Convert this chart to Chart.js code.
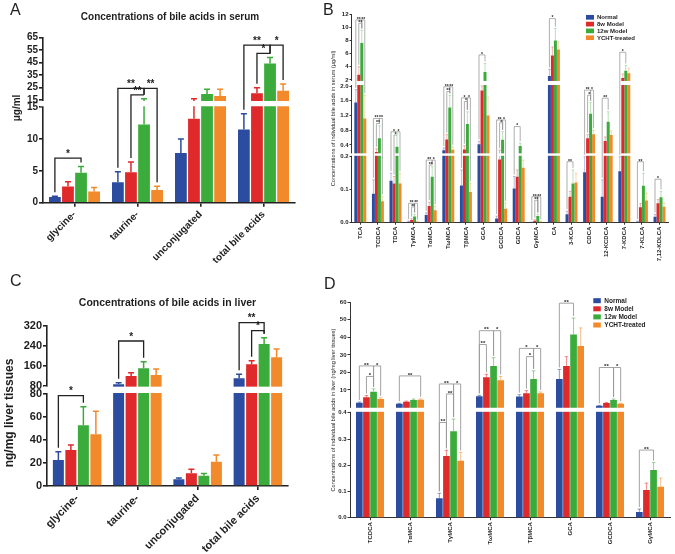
<!DOCTYPE html>
<html>
<head>
<meta charset="utf-8">
<script src="https://cdn.jsdelivr.net/npm/chart.js@4.4.0/dist/chart.umd.min.js"></script>
<style>
body { margin: 0; background: #fff; }
#wrap { position: relative; width: 675px; height: 554px; overflow: hidden; font-family: "Liberation Sans", Arial, sans-serif; color: #1e1e1e; }
canvas { position: absolute; }
.letter { position: absolute; font-size: 16px; line-height: 16px; }
.title { position: absolute; font-weight: bold; text-align: center; white-space: nowrap; }
.ytitle { position: absolute; font-weight: bold; text-align: center; white-space: nowrap; transform: rotate(-90deg); }
</style>
</head>
<body>
<div id="wrap">
  <canvas id="chartA" width="335" height="272" style="left:0;top:0"></canvas>
  <canvas id="chartB" width="345" height="272" style="left:330px;top:0"></canvas>
  <canvas id="chartC" width="335" height="279" style="left:0;top:275px"></canvas>
  <canvas id="chartD" width="345" height="279" style="left:330px;top:275px"></canvas>

  <div class="letter" style="left:10px;top:2px">A</div>
  <div class="letter" style="left:323px;top:2px">B</div>
  <div class="letter" style="left:10px;top:273px">C</div>
  <div class="letter" style="left:324px;top:276px">D</div>

  <div class="title" style="left:0;width:340px;top:12px;font-size:10px;line-height:10px">Concentrations of bile acids in serum</div>
  <div class="title" style="left:0;width:335px;top:297px;font-size:10.5px;line-height:11px">Concentrations of bile acids in liver</div>
  <div class="ytitle" style="left:-13px;width:60px;top:102px;font-size:10px;line-height:12px">μg/ml</div>
  <div class="ytitle" style="left:-56px;width:130px;top:406px;font-size:12px;line-height:14px">ng/mg liver tissues</div>
</div>
<script>
const FONT = '"Liberation Sans", Arial, sans-serif';
Chart.defaults.font.family = FONT;

const groups = ['Normal', '8w Model', '12w Model', 'YCHT-treated'];
const colors = ['#2b4c9f', '#e0292a', '#3bab3c', '#f2892a'];

// A - serum, pooled classes (ug/ml)
const serumCats = ['glycine-', 'taurine-', 'unconjugated', 'total bile acids'];
const serumNormal = [0.9, 3.2, 7.8, 11.5];
const serum8w = [2.55, 4.8, 13.2, 20.3];
const serum12w = [4.7, 12.3, 19.8, 44.2];
const serumYcht = [1.75, 2.0, 18.2, 22.4];
const serumErrNormal = [1.0, 4.85, 10.0, 14.0];
const serumErr8w = [3.3, 6.4, 16.0, 24.8];
const serumErr12w = [5.7, 16.0, 23.5, 48.8];
const serumErrYcht = [2.4, 2.6, 23.5, 27.8];
const serumTicksLow = [0, 5, 10, 15];
const serumTicksHigh = [15, 25, 35, 45, 55, 65];
// [category, group a, group b, bracket height, stars]
const serumSig = [
  [0, 0, 2, 7.0, '*'],
  [1, 0, 2, 24.3, '**'], [1, 1, 2, 19.0, '**'], [1, 2, 3, 24.3, '**'],
  [3, 0, 2, 58.8, '**'], [3, 1, 2, 52.2, '*'], [3, 2, 3, 58.8, '*']
];

// B - serum, individual bile acids (ug/ml)
const acidCats = ['TCA', 'TCDCA', 'TDCA', 'TγMCA', 'TαMCA', 'TωMCA', 'TβMCA', 'GCA', 'GCDCA', 'GDCA',
  'GγMCA', 'CA', '3-KCA', 'CDCA', '12-KCDCA', '7-KDCA', '7-KLCA', '7,12-KDLCA'];
const acidNormal = [1.55, 0.088, 0.127, 0.003, 0.023, 0.26, 0.113, 0.42, 0.013, 0.104, 0.001, 2.6, 0.026, 0.153, 0.079, 0.156, 0.003, 0.018];
const acid8w = [2.8, 0.21, 0.119, 0.008, 0.051, 0.55, 0.28, 1.88, 0.192, 0.139, 0.006, 5.7, 0.079, 0.58, 0.51, 2.3, 0.047, 0.059];
const acid12w = [7.6, 0.58, 0.355, 0.019, 0.139, 1.42, 0.97, 3.2, 0.54, 0.37, 0.02, 8.0, 0.119, 1.25, 1.03, 3.4, 0.112, 0.077];
const acidYcht = [1.12, 0.065, 0.119, 0.003, 0.038, 0.27, 0.093, 1.2, 0.042, 0.167, 0.003, 6.6, 0.122, 0.69, 0.67, 3.0, 0.067, 0.048];
const acidErrNormal = [1.9, 0.13, 0.15, 0.005, 0.03, 0.32, 0.16, 0.5, 0.02, 0.14, 0.002, 3.6, 0.035, 0.2, 0.13, 0.2, 0.005, 0.025];
const acidErr8w = [4.0, 0.3, 0.14, 0.012, 0.062, 0.68, 0.38, 2.0, 0.26, 0.16, 0.009, 7.0, 0.095, 0.68, 0.62, 2.9, 0.058, 0.07];
const acidErr12w = [9.5, 0.92, 0.72, 0.025, 0.17, 1.75, 1.3, 4.5, 0.76, 0.45, 0.025, 9.8, 0.16, 1.55, 1.3, 4.2, 0.15, 0.095];
const acidErrYcht = [1.75, 0.08, 0.15, 0.004, 0.05, 0.35, 0.12, 1.7, 0.06, 0.19, 0.004, 7.8, 0.15, 0.8, 0.78, 3.8, 0.09, 0.06];
const acidTicksLow = [0, 0.1, 0.2];
const acidTicksMid = [0.4, 0.8, 1.2, 1.6, 2.0];
const acidTicksHigh = [2, 4, 6, 8, 10, 12];
const acidSig = [
  [0, 0, 2, 11.1, '**'], [0, 2, 3, 11.1, '**'], [0, 1, 2, 10.6, '**'],
  [1, 0, 2, 1.12, '**'], [1, 2, 3, 1.12, '**'], [1, 1, 2, 0.98, '**'],
  [2, 0, 2, 0.76, '*'], [2, 2, 3, 0.76, '*'], [2, 1, 2, 0.67, '*'],
  [3, 0, 2, 0.059, '**'], [3, 2, 3, 0.059, '**'], [3, 1, 2, 0.048, '**'],
  [4, 0, 2, 0.19, '**'], [4, 2, 3, 0.19, '*'], [4, 1, 2, 0.175, '**'],
  [5, 0, 2, 1.98, '**'], [5, 2, 3, 1.98, '**'], [5, 1, 2, 1.85, '**'],
  [6, 0, 2, 1.68, '*'], [6, 2, 3, 1.68, '*'], [6, 1, 2, 1.58, '*'],
  [7, 0, 2, 5.8, '*'],
  [8, 0, 2, 1.08, '**'], [8, 2, 3, 1.08, '*'], [8, 1, 2, 1.0, '*'],
  [9, 0, 2, 0.9, '*'],
  [10, 0, 2, 0.079, '**'], [10, 2, 3, 0.079, '**'], [10, 1, 2, 0.068, '**'],
  [11, 0, 2, 11.3, '*'],
  [12, 0, 2, 0.185, '**'],
  [13, 0, 2, 1.89, '**'], [13, 2, 3, 1.89, '*'], [13, 1, 2, 1.75, '*'],
  [14, 0, 2, 1.67, '**'],
  [15, 0, 2, 6.2, '*'],
  [16, 0, 2, 0.185, '**'],
  [17, 0, 2, 0.132, '*']
];

// C - liver, pooled classes (ng/mg)
const liverCats = ['glycine-', 'taurine-', 'unconjugated', 'total bile acids'];
const liverNormal = [22.6, 85.6, 5.8, 109.6];
const liver8w = [31.3, 118.8, 11.0, 165.6];
const liver12w = [52.8, 149.6, 9.0, 246.8];
const liverYcht = [44.9, 122.8, 21.1, 193.2];
const liverErrNormal = [29.8, 92, 6.9, 125.6];
const liverErr8w = [35.7, 132, 14.5, 180];
const liverErr12w = [69, 176, 10.9, 272];
const liverErrYcht = [65, 146.8, 27, 226.8];
const liverTicksLow = [0, 20, 40, 60, 80];
const liverTicksHigh = [80, 160, 240, 320];
const liverSig = [
  [0, 0, 2, 78.5, '*'],
  [1, 0, 2, 258.8, '*'],
  [3, 0, 2, 332, '**'], [3, 1, 2, 300, '*']
];

// D - liver, individual bile acids (ng/mg)
const liverAcidCats = ['TCDCA', 'TαMCA', 'TγMCA', 'TωMCA', 'TβMCA', 'GCA', 'GCDCA', 'GγMCA'];
const liverAcidNormal = [2.7, 2.1, 0.074, 6.4, 6.2, 16.2, 1.0, 0.022];
const liverAcid8w = [5.9, 3.2, 0.235, 17.2, 8.1, 23.7, 2.5, 0.106];
const liverAcid12w = [9.0, 4.2, 0.33, 23.7, 16.2, 41.6, 4.2, 0.182];
const liverAcidYcht = [4.9, 4.4, 0.217, 15.6, 8.1, 35.0, 2.1, 0.118];
const liverAcidErrNormal = [3.1, 2.4, 0.093, 6.9, 7.3, 21.7, 1.2, 0.033];
const liverAcidErr8w = [6.8, 3.6, 0.257, 18.9, 9.6, 29.0, 2.9, 0.132];
const liverAcidErr12w = [10.6, 4.8, 0.376, 28.4, 20.9, 51.0, 4.8, 0.21];
const liverAcidErrYcht = [5.5, 4.9, 0.249, 17.7, 8.8, 45.4, 2.4, 0.151];
const liverAcidTicksLow = [0, 0.1, 0.2, 0.3, 0.4];
const liverAcidTicksHigh = [10, 20, 30, 40, 50, 60];
const liverAcidSig = [
  [0, 0, 2, 23.7, '**'], [0, 2, 3, 23.7, '*'], [0, 1, 2, 17.7, '*'],
  [1, 0, 3, 18, '**'],
  [2, 0, 2, 13.4, '**'], [2, 2, 3, 13.4, '*'], [2, 1, 2, 7.7, '**'], [2, 0, 1, 0.363, '**'],
  [3, 0, 2, 43.8, '**'], [3, 2, 3, 43.8, '*'], [3, 0, 1, 35.9, '**'],
  [4, 0, 2, 33.7, '*'], [4, 2, 3, 33.7, '*'], [4, 1, 2, 29, '*'],
  [5, 0, 2, 59.5, '**'],
  [6, 0, 2, 22.8, '**'], [6, 2, 3, 22.8, '*'],
  [7, 0, 2, 0.258, '**']
];

// linear scale with axis breaks: each segment owns a slice of the plot height
const LinearScale = Chart.registry.getScale('linear');
class BrokenScale extends LinearScale {
  static id = 'broken';
  segPixel(v, s) {
    const g = this.options.segments[s];
    const f = g.f0 + (v - g.lo) / (g.hi - g.lo) * (g.f1 - g.f0);
    return this.bottom - f * (this.bottom - this.top);
  }
  getPixelForValue(v) {
    const segs = this.options.segments;
    let s = segs.length - 1;
    for (let k = 0; k < segs.length; k++) {
      if (v <= segs[k].hi) { s = k; break; }
    }
    return this.segPixel(v, s);
  }
  getPixelForTick(i) {
    const t = this.ticks[i];
    return t ? this.segPixel(t.value, t.seg) : null;
  }
  getValueForPixel(p) {
    const segs = this.options.segments;
    const f = (this.bottom - p) / (this.bottom - this.top);
    let g = segs[segs.length - 1];
    for (const s of segs) { if (f <= s.f1) { g = s; break; } }
    return g.lo + (f - g.f0) / (g.f1 - g.f0) * (g.hi - g.lo);
  }
}
Chart.register(BrokenScale);

function marks(p) {
  return {
    id: 'marks',
    afterDatasetsDraw(chart) {
      const ctx = chart.ctx, ys = chart.scales.y, area = chart.chartArea;
      ctx.save();
      p.errs.forEach((tops, k) => {
        const bars = chart.getDatasetMeta(k).data;
        ctx.strokeStyle = colors[k];
        ctx.globalAlpha = p.errAlpha;
        ctx.lineWidth = p.errWidth;
        bars.forEach((bar, i) => {
          const yt = ys.getPixelForValue(tops[i]);
          ctx.beginPath();
          ctx.moveTo(bar.x, bar.y);
          ctx.lineTo(bar.x, yt);
          ctx.moveTo(bar.x - p.cap, yt);
          ctx.lineTo(bar.x + p.cap, yt);
          ctx.stroke();
        });
      });
      ctx.globalAlpha = 1;
      // white band where the axis is broken
      ctx.fillStyle = '#fff';
      for (let k = 1; k < p.segs.length; k++) {
        const yLow = ys.segPixel(p.segs[k - 1].hi, k - 1);
        const yHigh = ys.segPixel(p.segs[k].lo, k);
        ctx.fillRect(area.left - 3, yHigh + 1, area.right - area.left + 6, yLow - yHigh - 2);
      }
      ctx.strokeStyle = p.sigColor;
      ctx.lineWidth = p.sigWidth;
      ctx.fillStyle = '#1e1e1e';
      ctx.font = 'bold ' + p.starSize + 'px ' + FONT;
      ctx.textAlign = 'center';
      ctx.textBaseline = 'bottom';
      p.sig.forEach(([i, a, b, h, stars]) => {
        const xa = chart.getDatasetMeta(a).data[i].x;
        const xb = chart.getDatasetMeta(b).data[i].x;
        const yh = ys.getPixelForValue(h);
        const ya = Math.max(yh, ys.getPixelForValue(p.errs[a][i]) - p.legGap);
        const yb = Math.max(yh, ys.getPixelForValue(p.errs[b][i]) - p.legGap);
        ctx.beginPath();
        ctx.moveTo(xa, ya);
        ctx.lineTo(xa, yh);
        ctx.lineTo(xb, yh);
        ctx.lineTo(xb, yb);
        ctx.stroke();
        ctx.fillText(stars, (xa + xb) / 2, yh + p.starDy);
      });
      ctx.restore();
    },
    afterDraw(chart) {
      const L = p.legend;
      if (!L) return;
      const ctx = chart.ctx;
      ctx.save();
      ctx.font = 'bold ' + L.size + 'px ' + FONT;
      ctx.textAlign = 'left';
      ctx.textBaseline = 'middle';
      chart.data.datasets.forEach((ds, k) => {
        const y = L.y + k * L.step;
        ctx.fillStyle = ds.backgroundColor;
        ctx.fillRect(L.x, y - L.bh / 2, L.bw, L.bh);
        ctx.fillStyle = '#1e1e1e';
        ctx.fillText(ds.label, L.x + L.bw + L.gap, y + 0.5);
      });
      ctx.restore();
    }
  };
}

function panel(id, p) {
  const last = p.segs[p.segs.length - 1];
  return new Chart(document.getElementById(id), {
    type: 'bar',
    data: {
      labels: p.cats,
      datasets: p.series.map((d, k) => ({
        label: groups[k],
        data: d,
        backgroundColor: colors[k],
        categoryPercentage: p.catPct,
        barPercentage: p.barPct
      }))
    },
    options: {
      responsive: false,
      animation: false,
      events: [],
      devicePixelRatio: 1,
      layout: { autoPadding: false, padding: p.pad },
      plugins: { legend: { display: false }, tooltip: { enabled: false } },
      scales: {
        x: {
          grid: { display: true, offset: false, drawOnChartArea: false, tickLength: p.tickLen, color: p.axisColor, lineWidth: p.axisWidth },
          border: { color: p.axisColor, width: p.axisWidth },
          ticks: {
            autoSkip: false, minRotation: p.rot, maxRotation: p.rot, padding: p.xPad,
            color: '#1e1e1e', font: { size: p.xFont, weight: 'bold' }
          },
          afterFit: s => { s.height = p.xH; s.paddingLeft = 0; s.paddingRight = 0; }
        },
        y: {
          type: 'broken',
          min: 0,
          max: last.hi,
          segments: p.segs,
          afterBuildTicks: s => {
            s.ticks = p.ticks.flatMap((arr, k) => arr.map(v => ({ value: v, seg: k })));
          },
          afterFit: s => { s.width = p.yW; s.paddingTop = 0; s.paddingBottom = 0; },
          grid: { display: true, drawOnChartArea: false, tickLength: p.tickLen, color: p.axisColor, lineWidth: p.axisWidth },
          border: { color: p.axisColor, width: p.axisWidth },
          ticks: {
            autoSkip: false, padding: p.yPad, color: '#1e1e1e',
            font: { size: p.yFont, weight: 'bold' },
            callback: (v, i, t) => p.fmt(v, t[i].seg)
          },
          title: p.yTitle
            ? { display: true, text: p.yTitle, color: '#1e1e1e', font: { size: p.yTitleSize }, padding: { top: 0, bottom: 0 } }
            : { display: false }
        }
      }
    },
    plugins: [marks(p)]
  });
}

panel('chartA', {
  cats: serumCats,
  series: [serumNormal, serum8w, serum12w, serumYcht],
  errs: [serumErrNormal, serumErr8w, serumErr12w, serumErrYcht],
  sig: serumSig,
  ticks: [serumTicksLow, serumTicksHigh],
  segs: [{ lo: 0, hi: 15, f0: 0, f1: 0.577 }, { lo: 15, hi: 65, f0: 0.621, f1: 1 }],
  fmt: v => String(Math.round(v)),
  pad: { left: 0, top: 37.3, right: 40, bottom: 0 },
  yW: 43, xH: 69.3,
  catPct: 0.83, barPct: 0.9,
  rot: 45, xPad: 2, xFont: 10, yFont: 10, yPad: 1,
  tickLen: 4, axisColor: '#222', axisWidth: 1.6,
  errAlpha: 1, errWidth: 1.5, cap: 3,
  sigColor: '#222', sigWidth: 1.3, starSize: 10, starDy: 1, legGap: 4
});

panel('chartB', {
  cats: acidCats,
  series: [acidNormal, acid8w, acid12w, acidYcht],
  errs: [acidErrNormal, acidErr8w, acidErr12w, acidErrYcht],
  sig: acidSig,
  ticks: [acidTicksLow, acidTicksMid, acidTicksHigh],
  segs: [{ lo: 0, hi: 0.2, f0: 0, f1: 0.316 }, { lo: 0.2, hi: 2, f0: 0.337, f1: 0.655 }, { lo: 2, hi: 12, f0: 0.684, f1: 1 }],
  fmt: (v, s) => s === 2 ? String(Math.round(v)) : v.toFixed(1),
  pad: { left: 0, top: 14, right: 6.7, bottom: 0 },
  yW: 21.5, xH: 49.3,
  catPct: 0.68, barPct: 1,
  rot: 90, xPad: 2, xFont: 6, yFont: 6, yPad: 1,
  tickLen: 2, axisColor: '#333', axisWidth: 1,
  errAlpha: 0.45, errWidth: 0.8, cap: 1.2,
  sigColor: '#9a9a9a', sigWidth: 0.8, starSize: 5, starDy: 2, legGap: 2,
  yTitle: 'Concentrations of individual bile acids in serum (μg/ml)', yTitleSize: 5.6,
  legend: { x: 256, y: 17.3, step: 6.8, bw: 8, bh: 4.7, gap: 3, size: 6 }
});

panel('chartC', {
  cats: liverCats,
  series: [liverNormal, liver8w, liver12w, liverYcht],
  errs: [liverErrNormal, liverErr8w, liverErr12w, liverErrYcht],
  sig: liverSig,
  ticks: [liverTicksLow, liverTicksHigh],
  segs: [{ lo: 0, hi: 80, f0: 0, f1: 0.574 }, { lo: 80, hi: 320, f0: 0.626, f1: 1 }],
  fmt: v => String(Math.round(v)),
  pad: { left: 0, top: 50.7, right: 47, bottom: 0 },
  yW: 47, xH: 68,
  catPct: 0.83, barPct: 0.88,
  rot: 45, xPad: 2, xFont: 11, yFont: 11, yPad: 1,
  tickLen: 4, axisColor: '#222', axisWidth: 1.6,
  errAlpha: 1, errWidth: 1.5, cap: 3,
  sigColor: '#222', sigWidth: 1.3, starSize: 10, starDy: 1, legGap: 4
});

panel('chartD', {
  cats: liverAcidCats,
  series: [liverAcidNormal, liverAcid8w, liverAcid12w, liverAcidYcht],
  errs: [liverAcidErrNormal, liverAcidErr8w, liverAcidErr12w, liverAcidErrYcht],
  sig: liverAcidSig,
  ticks: [liverAcidTicksLow, liverAcidTicksHigh],
  segs: [{ lo: 0, hi: 0.4, f0: 0, f1: 0.487 }, { lo: 0.4, hi: 60, f0: 0.515, f1: 1 }],
  fmt: (v, s) => s === 0 ? v.toFixed(1) : String(Math.round(v)),
  pad: { left: 0, top: 27.3, right: 5, bottom: 0 },
  yW: 20, xH: 36.3,
  catPct: 0.71, barPct: 0.94,
  rot: 90, xPad: 2, xFont: 6, yFont: 6, yPad: 1,
  tickLen: 2.5, axisColor: '#333', axisWidth: 1,
  errAlpha: 0.6, errWidth: 0.9, cap: 1.8,
  sigColor: '#999', sigWidth: 0.9, starSize: 6, starDy: 2, legGap: 2,
  yTitle: 'Concentrations of individual bile acids in liver (ng/mg liver tissues)', yTitleSize: 5.6,
  legend: { x: 263.3, y: 25.7, step: 8.1, bw: 7.5, bh: 5, gap: 3.5, size: 6.5 }
});
</script>
</body>
</html>
